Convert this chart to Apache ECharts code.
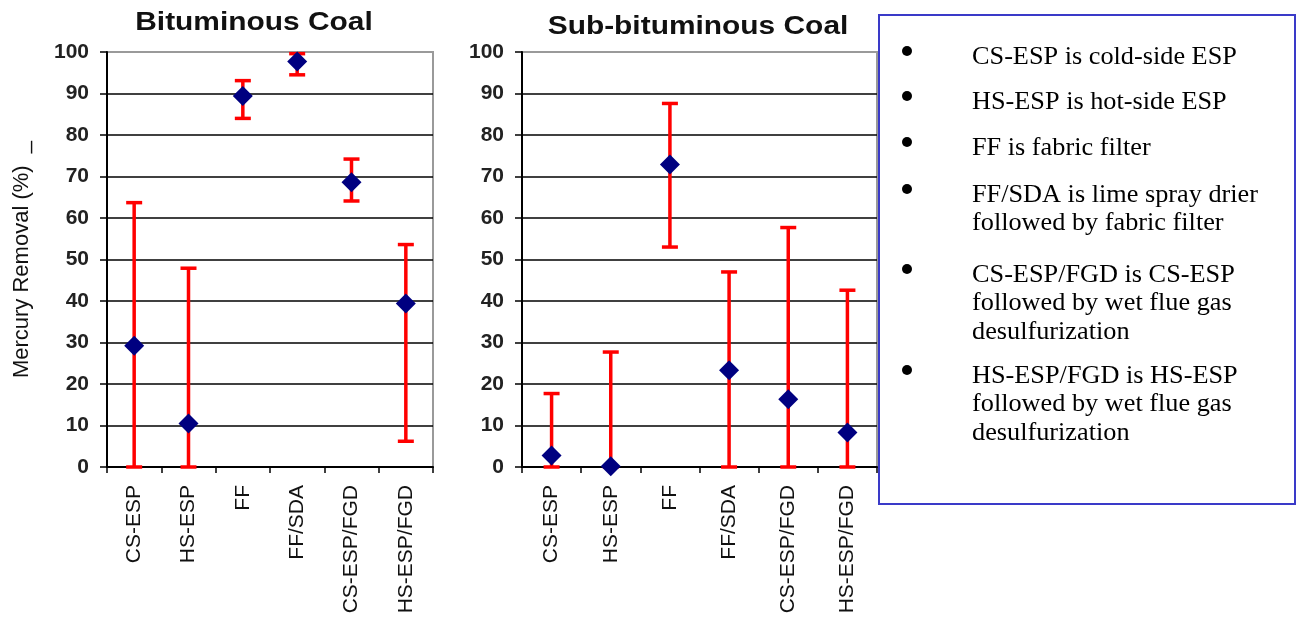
<!DOCTYPE html>
<html>
<head>
<meta charset="utf-8">
<script src="https://cdn.jsdelivr.net/npm/echarts@6/dist/echarts.min.js"></script>
<style>
  html, body { margin: 0; padding: 0; background: #ffffff; }
  #chart { width: 1300px; height: 633px; }
</style>
</head>
<body>
<div id="chart"></div>
<script>
// Control technologies (x categories)
const categories = ['CS-ESP', 'HS-ESP', 'FF', 'FF/SDA', 'CS-ESP/FGD', 'HS-ESP/FGD'];

// Bituminous coal: mean mercury removal (%) and range
const bitMean = [29.2, 10.5, 89.4, 97.7, 68.6, 39.4];
const bitLow  = [0, 0, 84.0, 94.5, 64.1, 6.2];
const bitHigh = [63.7, 47.9, 93.1, 99.6, 74.2, 53.6];

// Sub-bituminous coal: mean mercury removal (%) and range
const subMean = [2.8, 0.2, 72.9, 23.3, 16.3, 8.3];
const subLow  = [0, 0, 53.0, 0, 0, 0];
const subHigh = [17.7, 27.7, 87.6, 47.0, 57.7, 42.6];

// Y axis ticks
const yTicks = [0, 10, 20, 30, 40, 50, 60, 70, 80, 90, 100];

const panelTitles = ['Bituminous Coal', 'Sub-bituminous Coal'];
const yAxisTitle = 'Mercury Removal (%)  _';

const notes = [
  ['CS-ESP is cold-side ESP'],
  ['HS-ESP is hot-side ESP'],
  ['FF is fabric filter'],
  ['FF/SDA is lime spray drier', 'followed by fabric filter'],
  ['CS-ESP/FGD is CS-ESP', 'followed by wet flue gas', 'desulfurization'],
  ['HS-ESP/FGD is HS-ESP', 'followed by wet flue gas', 'desulfurization']
];

const chart = echarts.init(document.getElementById('chart'), null, { renderer: 'canvas' });

function errorBar(params, api) {
  const x = api.value(0);
  const pLo = api.coord([x, api.value(1)]);
  const pHi = api.coord([x, api.value(2)]);
  const half = 8;
  const style = { stroke: '#ff0000', lineWidth: 3.5 };
  return {
    type: 'group',
    children: [
      { type: 'line', shape: { x1: pLo[0], y1: pLo[1], x2: pHi[0], y2: pHi[1] }, style: style },
      { type: 'line', shape: { x1: pHi[0] - half, y1: pHi[1], x2: pHi[0] + half, y2: pHi[1] }, style: style },
      { type: 'line', shape: { x1: pLo[0] - half, y1: pLo[1], x2: pLo[0] + half, y2: pLo[1] }, style: style }
    ]
  };
}

function xAxisFor(gridIndex) {
  return {
    type: 'category',
    gridIndex: gridIndex,
    data: categories,
    boundaryGap: true,
    axisLine: { show: true, lineStyle: { color: '#000', width: 2 } },
    axisTick: { show: true, length: 6, interval: 0, lineStyle: { color: '#000', width: 1.5 } },
    axisLabel: {
      interval: 0, rotate: 90, margin: 18,
      fontFamily: 'Liberation Sans, Arial, sans-serif', fontSize: 21, color: '#111'
    },
    splitLine: { show: false }
  };
}

function yAxisFor(gridIndex, withName) {
  const ax = {
    type: 'value',
    gridIndex: gridIndex,
    min: yTicks[0], max: yTicks[yTicks.length - 1], interval: yTicks[1] - yTicks[0],
    axisLine: { show: true, lineStyle: { color: '#000', width: 2 } },
    axisTick: { show: true, length: 7, lineStyle: { color: '#000', width: 1.5 } },
    axisLabel: {
      margin: 18, fontFamily: 'Liberation Sans, Arial, sans-serif',
      fontSize: 21, fontWeight: 'bold', color: '#222'
    },
    splitLine: { show: true, showMaxLine: false, lineStyle: { color: '#000', width: 1.5 } }
  };
  if (withName) {
    ax.name = yAxisTitle;
    ax.nameLocation = 'middle';
    ax.nameGap = 74;
    ax.nameTextStyle = { fontFamily: 'Liberation Sans, Arial, sans-serif', fontSize: 22, color: '#111' };
  }
  return ax;
}

function rows(lo, hi) {
  return categories.map((c, i) => [i, lo[i], hi[i]]);
}

// Explanatory note box on the right
const noteChildren = [{
  type: 'rect',
  shape: { x: 879, y: 15, width: 416, height: 489 },
  style: { fill: '#ffffff', stroke: '#3a3ac8', lineWidth: 2 }
}];
const noteStarts = [57, 102, 148, 195, 275, 376];
const lineStep = 28.5;
notes.forEach((para, k) => {
  noteChildren.push({
    type: 'circle',
    shape: { cx: 907, cy: noteStarts[k] - 6, r: 5 },
    style: { fill: '#000' }
  });
  para.forEach((t, j) => {
    noteChildren.push({
      type: 'text',
      x: 972, y: noteStarts[k] + j * lineStep,
      scaleX: 1.03,
      style: {
        text: t, fill: '#000', fontSize: 25.5,
        fontFamily: 'Liberation Serif, Times New Roman, serif',
        textAlign: 'left', textVerticalAlign: 'middle'
      }
    });
  });
});

const option = {
  animation: false,
  backgroundColor: '#ffffff',
  grid: [
    { left: 107, top: 52, width: 326, height: 415, show: true, borderColor: '#9a9a9a', borderWidth: 2, backgroundColor: 'transparent' },
    { left: 522, top: 52, width: 355, height: 415, show: true, borderColor: '#9a9a9a', borderWidth: 2, backgroundColor: 'transparent' }
  ],
  xAxis: [xAxisFor(0), xAxisFor(1)],
  yAxis: [yAxisFor(0, true), yAxisFor(1, false)],
  series: [
    { type: 'custom', xAxisIndex: 0, yAxisIndex: 0, renderItem: errorBar, data: rows(bitLow, bitHigh), z: 3, clip: false },
    { type: 'scatter', xAxisIndex: 0, yAxisIndex: 0, data: bitMean, symbol: 'diamond', symbolSize: [20, 20],
      itemStyle: { color: '#000080', opacity: 1 }, z: 4, clip: false },
    { type: 'custom', xAxisIndex: 1, yAxisIndex: 1, renderItem: errorBar, data: rows(subLow, subHigh), z: 3, clip: false },
    { type: 'scatter', xAxisIndex: 1, yAxisIndex: 1, data: subMean, symbol: 'diamond', symbolSize: [20, 20],
      itemStyle: { color: '#000080', opacity: 1 }, z: 4, clip: false }
  ],
  graphic: [
    {
      type: 'text', x: 254, y: 23, scaleX: 1.15,
      style: { text: panelTitles[0], fontSize: 26, fontWeight: 'bold', fill: '#111',
               fontFamily: 'Liberation Sans, Arial, sans-serif', textAlign: 'center', textVerticalAlign: 'middle' }
    },
    {
      type: 'text', x: 698, y: 27, scaleX: 1.15,
      style: { text: panelTitles[1], fontSize: 26, fontWeight: 'bold', fill: '#111',
               fontFamily: 'Liberation Sans, Arial, sans-serif', textAlign: 'center', textVerticalAlign: 'middle' }
    },
    { type: 'group', children: noteChildren, z: 10 }
  ]
};

chart.setOption(option);
</script>
</body>
</html>
